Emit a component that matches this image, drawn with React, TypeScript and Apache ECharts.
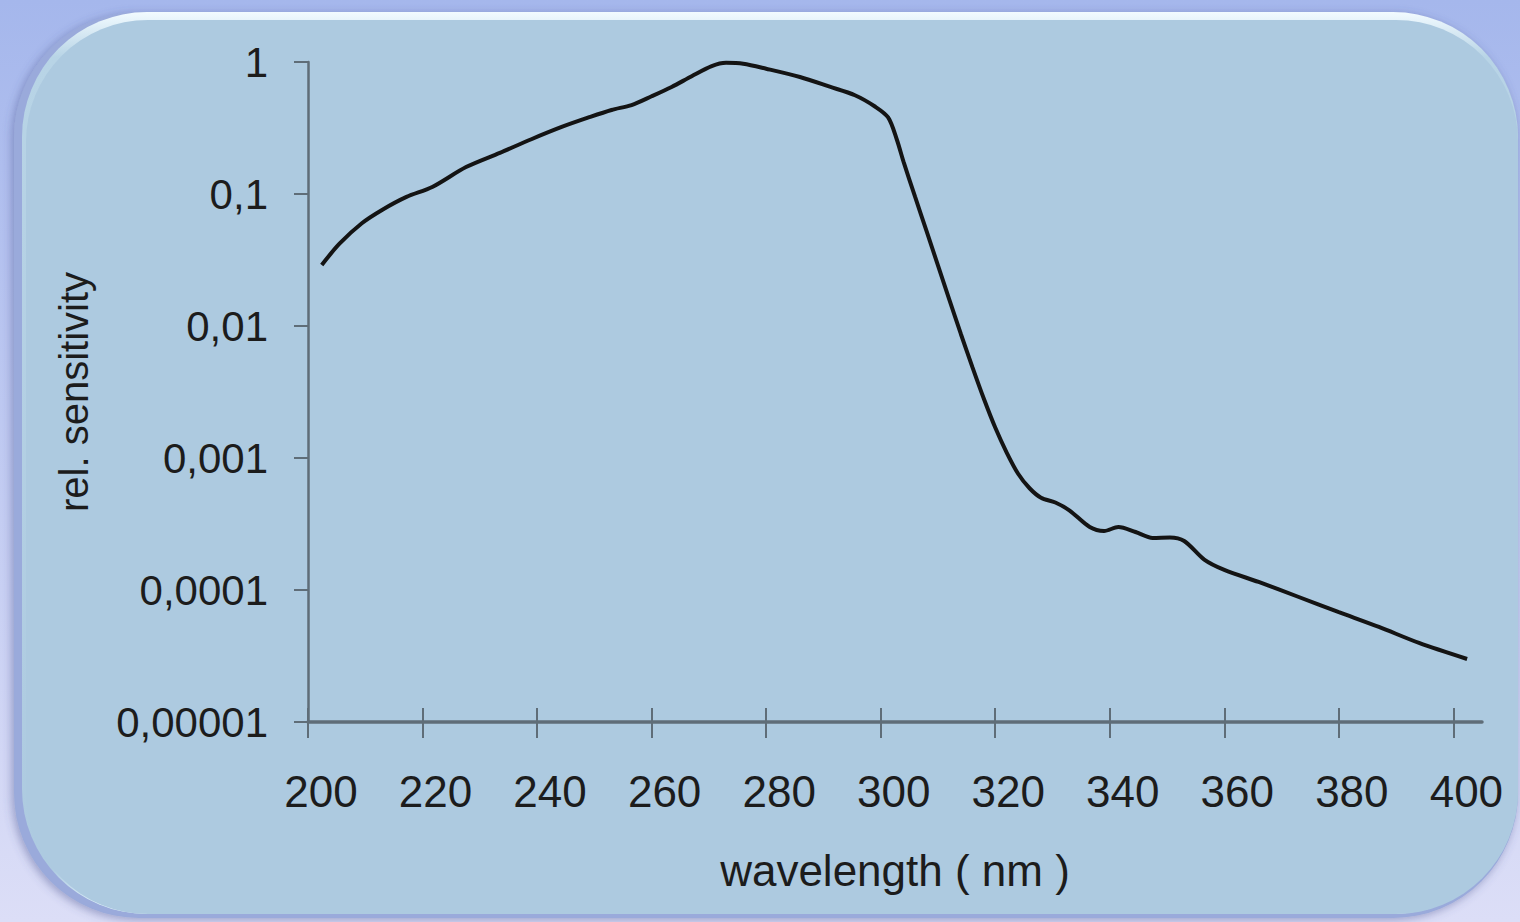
import React, { useEffect, useRef } from "react";
import * as echarts from "echarts";

const wavelengths = [202.4, 205.5, 209.4, 213, 217.2, 221.7, 227.6, 233.5, 239, 244.3, 249, 253, 256.5, 260, 263.5, 267, 270.5, 273, 276, 280, 285.9, 291.1, 295.5, 299, 301.3, 302.8, 304, 306, 308, 310, 312, 314, 316, 318, 320, 322, 324, 326, 328, 330.5, 333, 336.5, 339, 341.5, 344.5, 347.5, 350.5, 353, 356.5, 360, 366, 373, 380, 387, 394, 402.4];
const sensitivity = [0.029, 0.042, 0.06, 0.076, 0.095, 0.113, 0.16, 0.205, 0.26, 0.322, 0.38, 0.433, 0.472, 0.55, 0.647, 0.78, 0.93, 0.985, 0.97, 0.89, 0.77, 0.65, 0.56, 0.46, 0.38, 0.26, 0.175, 0.0955, 0.0525, 0.0288, 0.0158, 0.0087, 0.0049, 0.00282, 0.0017, 0.0011, 0.00076, 0.00059, 0.0005, 0.00046, 0.0004, 0.0003, 0.00028, 0.0003, 0.000275, 0.000248, 0.00025, 0.000235, 0.00017, 0.000142, 0.000115, 0.0000885, 0.000068, 0.0000525, 0.0000397, 0.00003];
const xTicks = [200, 220, 240, 260, 280, 300, 320, 340, 360, 380, 400];
const xAxisName = "wavelength ( nm )";
const yAxisName = "rel. sensitivity";

function fmtY(v: number): string {
  const d = Math.max(0, Math.round(-Math.log10(v)));
  return v.toFixed(d).replace(".", ",");
}

export default function App() {
  const ref = useRef<HTMLDivElement>(null);
  useEffect(() => {
    if (!ref.current) return;
    const chart = echarts.init(ref.current, null, { renderer: "svg" });
    const data = wavelengths.map((w, i) => [w, sensitivity[i]]);
    const axisColor = "#5f6d78";
    chart.setOption({
      animation: false,
      graphic: [
        {
          type: "rect",
          z: -100,
          shape: { x: 0, y: 0, width: 1520, height: 922 },
          style: {
            fill: new echarts.graphic.LinearGradient(0, 0, 0, 1, [
              { offset: 0, color: "#a5b7ec" },
              { offset: 1, color: "#dcdef7" },
            ]),
          },
        },
        {
          type: "rect",
          z: -99,
          shape: { x: 14, y: 12, width: 1504, height: 906, r: 125 },
          style: {
            fill: "#9aaadb",
            shadowBlur: 10,
            shadowColor: "rgba(70,80,140,0.45)",
            shadowOffsetX: -2,
            shadowOffsetY: 2,
          },
        },
        {
          type: "rect",
          z: -98,
          shape: { x: 22, y: 12, width: 1496, height: 902, r: 125 },
          style: {
            fill: new echarts.graphic.LinearGradient(0, 0, 0, 1, [
              { offset: 0, color: "#f2fbff" },
              { offset: 0.05, color: "#b8d4e6" },
              { offset: 0.95, color: "#adcae0" },
              { offset: 1, color: "#e6f6fd" },
            ]),
          },
        },
        {
          type: "rect",
          z: -97,
          shape: { x: 26, y: 20, width: 1492, height: 894, r: 122 },
          style: { fill: "#adcae0" },
        },
      ],
      grid: { left: 308, right: 38, top: 62, bottom: 200 },
      xAxis: [
        {
          type: "value",
          min: 200,
          max: 405,
          interval: 20,
          name: xAxisName,
          nameLocation: "middle",
          nameGap: 126,
          nameTextStyle: { fontSize: 44, color: "#1c1c1c", fontFamily: "Liberation Sans, Arial, sans-serif" },
          splitLine: { show: false },
          axisLine: { show: true, lineStyle: { color: axisColor, width: 3.5 } },
          axisTick: { show: true, length: 16, customValues: xTicks, lineStyle: { color: axisColor, width: 2 } },
          axisLabel: {
            customValues: xTicks,
            fontSize: 44,
            color: "#1c1c1c",
            margin: 47,
            padding: [0, 0, 0, 26],
            fontFamily: "Liberation Sans, Arial, sans-serif",
          },
        },
        {
          type: "value",
          min: 200,
          max: 405,
          interval: 20,
          position: "bottom",
          splitLine: { show: false },
          axisLine: { show: false },
          axisTick: { show: true, inside: true, length: 14, customValues: xTicks, lineStyle: { color: axisColor, width: 2 } },
          axisLabel: { show: false },
        },
      ],
      yAxis: {
        type: "log",
        logBase: 10,
        min: 0.00001,
        max: 1,
        splitNumber: 5,
        name: yAxisName,
        nameLocation: "middle",
        nameGap: 214,
        nameTextStyle: { fontSize: 40, color: "#1c1c1c", fontFamily: "Liberation Sans, Arial, sans-serif" },
        splitLine: { show: false },
        axisLine: { show: true, lineStyle: { color: axisColor, width: 2.5 } },
        axisTick: { show: true, length: 14, lineStyle: { color: axisColor, width: 2 } },
        axisLabel: {
          fontSize: 42,
          color: "#1c1c1c",
          margin: 40,
          formatter: (v: number) => fmtY(v),
          fontFamily: "Liberation Sans, Arial, sans-serif",
        },
      },
      series: [
        {
          type: "line",
          data,
          smooth: 0.3,
          showSymbol: false,
          symbol: "none",
          lineStyle: { color: "#141414", width: 4 },
        },
      ],
    });
    return () => chart.dispose();
  }, []);
  return <div ref={ref} style={{ position: "absolute", left: 0, top: 0, width: 1520, height: 922 }} />;
}
